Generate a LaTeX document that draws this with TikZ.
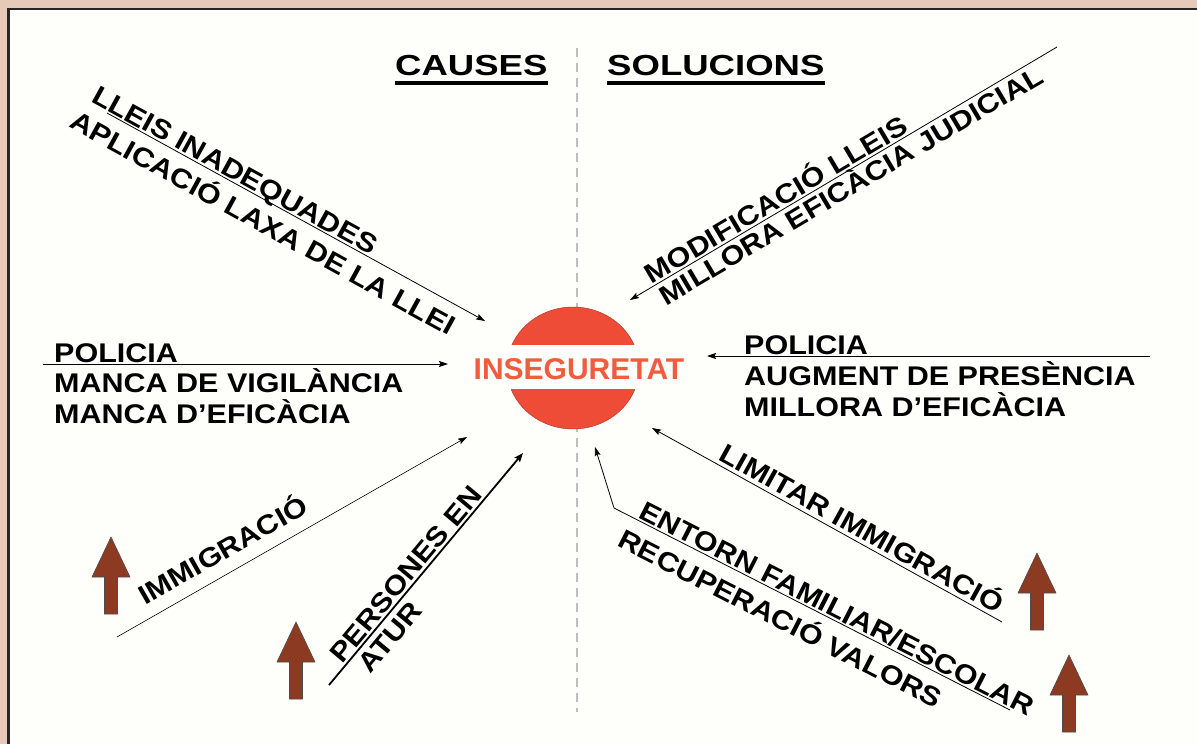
\documentclass[tikz,border=0pt]{standalone}
\usepackage{fontspec}
\setmainfont{Liberation Sans}
\newfontfamily\wf[FakeStretch=1.13]{Liberation Sans}
\newfontfamily\hf[FakeStretch=1.26]{Liberation Sans}
\usetikzlibrary{arrows.meta}
\definecolor{bgpink}{RGB}{231,201,186}
\definecolor{paper}{RGB}{254,254,250}
\definecolor{circred}{RGB}{239,76,56}
\definecolor{txtred}{RGB}{240,92,62}
\definecolor{brownarr}{RGB}{140,58,34}
\definecolor{dashgray}{RGB}{190,190,190}
\begin{document}
\begin{tikzpicture}[x=1pt,y=-1pt,
  lbl/.style={font=\wf\bfseries\fontsize{27}{31}\selectfont, inner sep=0pt, text height=19.3pt, text depth=0pt},
  head/.style={font=\hf\bfseries\fontsize{29}{31}\selectfont, inner sep=0pt, anchor=base west},
  conn/.style={line width=0.8pt, -{Stealth[length=9pt,width=6pt,inset=1.5pt]}},
  thickconn/.style={line width=1.8pt, -{Stealth[length=9pt,width=7pt,inset=1.5pt]}},
  uparr/.pic={\filldraw[fill=brownarr, draw=black!70, line width=0.6pt] (0,0) -- (19,40) -- (6.5,40) -- (6.5,77) -- (-6.5,77) -- (-6.5,40) -- (-19,40) -- cycle;}
]
\useasboundingbox (0,0) rectangle (1197,744);
\clip (0,0) rectangle (1197,744);
\fill[bgpink] (0,0) rectangle (1197,744);
\filldraw[fill=paper, draw=black!85, line width=2.5pt] (8.5,9) rectangle (1215,765);

% dashed divider
\coordinate (dtop) at (577,48);
\coordinate (dbot) at (577,712);
\draw[dashgray, line width=1.3pt, dash pattern=on 9pt off 6pt] (dtop) -- (dbot);

% headings
\node[head] (causes) at (395,75) {CAUSES};
\node[head] (solucions) at (607,75) {SOLUCIONS};
\draw[line width=3.5pt] ([yshift=-8pt]causes.base west) -- ([yshift=-8pt]causes.base east);
\draw[line width=3.5pt] ([yshift=-8pt]solucions.base west) -- ([yshift=-8pt]solucions.base east);

% central node
\fill[circred] (573,368) ellipse [x radius=66, y radius=61];
\draw[circred!70!black, line width=0.4pt] (573,368) ellipse [x radius=66, y radius=61];
\fill[paper] (500,345) rectangle (650,389);
\node[font=\bfseries\fontsize{30}{32}\selectfont, text=txtred, inner sep=0pt, anchor=base] (inseg) at (579,379) {INSEGURETAT};

% coordinates of connector ends
\coordinate (s1) at (107,113);  \coordinate (e1) at (485,321);
\coordinate (s2) at (43,364);   \coordinate (e2) at (448,364);
\coordinate (s3) at (117,637);  \coordinate (e3) at (467,437);
\coordinate (s4) at (329,685);  \coordinate (e4) at (523,453);
\coordinate (s5) at (1057,47);  \coordinate (e5) at (630,300);
\coordinate (s6) at (1150,356); \coordinate (e6) at (707,356);
\coordinate (s7) at (1002,622); \coordinate (e7) at (652,428);
\coordinate (s8) at (1010,710); \coordinate (b8) at (614,508); \coordinate (e8) at (595,447);

% causes
\draw[conn] (s1) -- (e1)
  node[lbl, pos=0.324, sloped, above=2pt] (t1a) {LLEIS INADEQUADES}
  node[lbl, pos=0.44, sloped, below=11pt] (t1b) {APLICACIÓ LAXA DE LA LLEI};
\draw[conn] (s2) -- (e2);
\node[lbl, anchor=base west] (t2a) at (54,362) {POLICIA};
\node[lbl, anchor=base west] (t2b) at (54,392) {MANCA DE VIGILÀNCIA};
\node[lbl, anchor=base west] (t2c) at (54,423) {MANCA D’EFICÀCIA};
\draw[conn, line width=0.6pt] (s3) -- (e3)
  node[lbl, pos=0.335, sloped, above=13pt] (t3) {IMMIGRACIÓ};
\draw[thickconn] (s4) -- (e4)
  node[lbl, pos=0.444, sloped, above=2pt] (t4a) {PERSONES EN}
  node[lbl, pos=0.25, sloped, below=5pt] (t4b) {ATUR};

% solutions
\draw[conn] (s5) -- (e5)
  node[lbl, pos=0.644, sloped, above=2pt] (t5a) {MODIFICACIÓ LLEIS}
  node[lbl, pos=0.50, sloped, below=4pt] (t5b) {MILLORA EFICÀCIA JUDICIAL};
\draw[conn] (s6) -- (e6);
\node[lbl, anchor=base west] (t6a) at (744,354) {POLICIA};
\node[lbl, anchor=base west] (t6b) at (744,385) {AUGMENT DE PRESÈNCIA};
\node[lbl, anchor=base west] (t6c) at (744,416) {MILLORA D’EFICÀCIA};
\draw[conn] (s7) -- (e7)
  node[lbl, pos=0.42, sloped, above=4pt] (t7) {LIMITAR IMMIGRACIÓ};
\draw[conn] (s8) -- (b8)
  node[lbl, pos=0.45, sloped, above=2pt] (t8a) {ENTORN FAMILIAR/ESCOLAR}
  node[lbl, pos=0.553, sloped, below=13pt] (t8b) {RECUPERACIÓ VALORS}
  -- (e8);

% brown up arrows
\pic (u1) at (111,537) {uparr};
\pic (u2) at (296,622) {uparr};
\pic (u3) at (1037,553) {uparr};
\pic (u4) at (1069,655) {uparr};
\end{tikzpicture}
\end{document}
